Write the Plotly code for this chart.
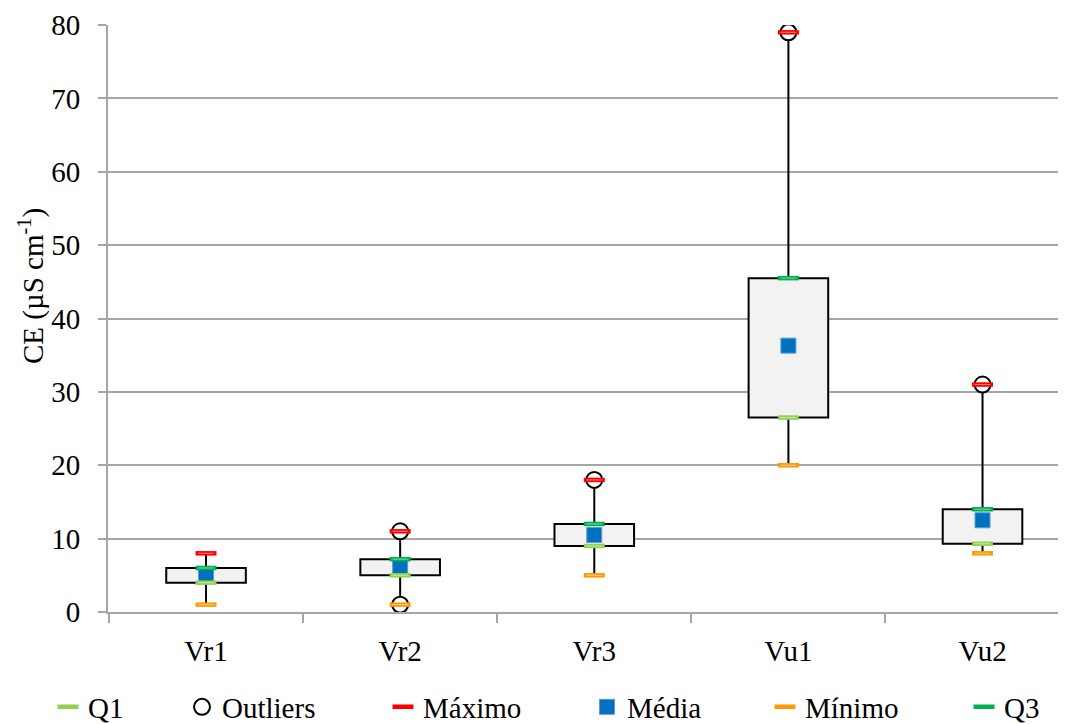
import plotly.graph_objects as go

categories = ["Vr1", "Vr2", "Vr3", "Vu1", "Vu2"]
q1_vals = [4, 5, 9, 26.5, 9.3]
q3_vals = [6, 7.2, 12, 45.5, 14]
min_vals = [1, 1, 5, 20, 8]
max_vals = [8, 11, 18, 79, 31]
mean_vals = [5, 6.2, 10.5, 36.3, 12.5]
outlier_cats = ["Vr2", "Vr2", "Vr3", "Vu1", "Vu2"]
outlier_vals = [11, 1, 18, 79, 31]
y_ticks = [0, 10, 20, 30, 40, 50, 60, 70, 80]

FONT = "Liberation Serif"
FS = 29
GRID = "#A6A6A6"

# page body has an 8px default margin; compensate so the figure fills the window
OFF = 8
W, H = 1066 - OFF, 724 - OFF
ML, MR, MT, MB = 108 - OFF, 0, 25 - OFF, 112
PW = W - ML - MR
PH = H - MT - MB

fig = go.Figure()

# box body (Q1..Q3)
fig.add_trace(go.Bar(
    x=categories, y=[b - a for a, b in zip(q1_vals, q3_vals)], base=q1_vals,
    width=0.41, marker=dict(color="#F2F2F2", line=dict(color="black", width=2)),
    showlegend=False, hoverinfo="skip",
))

# whiskers: min..Q1 and Q3..max
wx, wy = [], []
for c, lo, a, b, hi in zip(categories, min_vals, q1_vals, q3_vals, max_vals):
    wx += [c, c, None, c, c, None]
    wy += [lo, a, None, b, hi, None]
fig.add_trace(go.Scatter(
    x=wx, y=wy, mode="lines", line=dict(color="black", width=2),
    showlegend=False, hoverinfo="skip",
))

fig.add_trace(go.Scatter(
    x=categories, y=mean_vals, mode="markers", name="Média",
    marker=dict(symbol="square", size=15, color="#0070C0",
                line=dict(color="#5B9BD5", width=1)),
    legend="legend4",
))
fig.add_trace(go.Scatter(
    x=outlier_cats, y=outlier_vals, mode="markers", name="Outliers",
    marker=dict(symbol="circle", size=16, color="white",
                line=dict(color="black", width=2)),
    legend="legend2",
))

def dash_trace(y, name, color, light, leg):
    fig.add_trace(go.Scatter(
        x=categories, y=y, mode="markers", name=name,
        marker=dict(symbol="line-ew", size=15, color=color,
                    line=dict(color=color, width=4.5)),
        legend=leg,
    ))
    fig.add_trace(go.Scatter(
        x=categories, y=y, mode="markers", showlegend=False, hoverinfo="skip",
        marker=dict(symbol="line-ew", size=11, color=light,
                    line=dict(color=light, width=1)),
    ))

dash_trace(q1_vals, "Q1", "#92D050", "#C9E8A8", "legend")
dash_trace(q3_vals, "Q3", "#00B050", "#80D8A8", "legend6")
dash_trace(min_vals, "Mínimo", "#FF9900", "#FFCC80", "legend5")
dash_trace(max_vals, "Máximo", "#FF0000", "#FF8080", "legend3")

# legend positions (screen pixel left edges)
leg_px = {"legend": 48, "legend2": 182, "legend3": 383, "legend4": 587,
          "legend5": 765, "legend6": 964}
leg_y_px = 707 - OFF
legs = {}
for k, px in leg_px.items():
    legs[k] = dict(
        x=(px - OFF - ML) / PW, xanchor="left",
        y=-(leg_y_px - (MT + PH)) / PH, yanchor="middle",
        orientation="h", bgcolor="rgba(0,0,0,0)",
        font=dict(family=FONT, size=FS, color="black"),
        borderwidth=0,
    )

fig.update_layout(
    width=W, height=H,
    margin=dict(l=ML, r=MR, t=MT, b=MB, pad=0, autoexpand=False),
    paper_bgcolor="white", plot_bgcolor="white",
    font=dict(family=FONT, size=FS, color="black"),
    showlegend=True, barmode="overlay",
    **legs,
)

fig.update_xaxes(
    type="category", categoryorder="array", categoryarray=categories,
    range=[-0.505, 4.43],
    showgrid=False, showline=True, linecolor=GRID, linewidth=2,
    ticks="outside", tickson="boundaries", ticklen=9, tickcolor=GRID, tickwidth=2,
    ticklabelstandoff=12,
    tickfont=dict(family=FONT, size=FS, color="black"),
    zeroline=False,
)
fig.update_yaxes(
    range=[0, 80], tickvals=y_ticks,
    showgrid=True, gridcolor=GRID, gridwidth=2,
    showline=True, linecolor=GRID, linewidth=2,
    ticks="outside", ticklen=8, tickcolor=GRID, tickwidth=2,
    ticklabelstandoff=12,
    tickfont=dict(family=FONT, size=FS, color="black"),
    zeroline=False,
)

fig.add_annotation(
    text="CE (µS cm<sup>-1</sup>)", textangle=-90,
    xref="paper", yref="paper",
    x=(31 - OFF - ML) / PW, y=(MT + PH - (286 - OFF)) / PH,
    xanchor="center", yanchor="middle", showarrow=False,
    font=dict(family=FONT, size=FS, color="black"),
)

fig.write_html("out.html")
